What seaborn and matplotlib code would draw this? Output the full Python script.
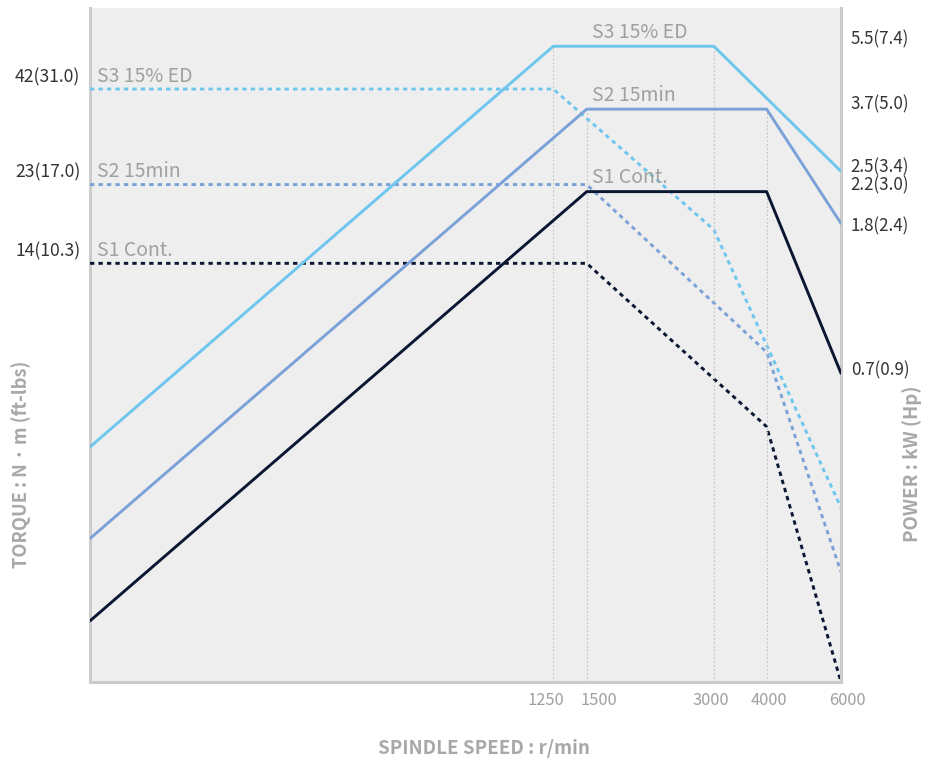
import matplotlib
matplotlib.use("Agg")
import matplotlib.pyplot as plt
import matplotlib.transforms as mtransforms
import seaborn as sns

# ---- data -------------------------------------------------------------
s1_speed = [100, 1500, 4000, 6000]
s1_power = [0.147, 2.2, 2.2, 0.7]
s1_torque = [14, 14, 5.0, 1.0]

s2_speed = [100, 1500, 4000, 6000]
s2_power = [0.247, 3.7, 3.7, 1.8]
s2_torque = [23, 23, 8.0, 2.0]

s3_speed = [100, 1250, 3000, 6000]
s3_power = [0.44, 5.5, 5.5, 2.5]
s3_torque = [42, 42, 17.3, 3.0]

series_names = ["S1 Cont.", "S2 15min", "S3 15% ED"]
series_colors = ["#0B1633", "#7BA2D8", "#6EC6EE"]

speed_ticks = [1250, 1500, 3000, 4000, 6000]
speed_labels = ["1250", "1500", "3000", "4000", "6000"]

torque_ticks = [42, 23, 14]
torque_labels = ["42(31.0)", "23(17.0)", "14(10.3)"]

power_ticks = [5.5, 3.7, 2.5, 2.2, 1.8, 0.7]
power_labels = ["5.5(7.4)", "3.7(5.0)", "2.5(3.4)", "2.2(3.0)", "1.8(2.4)", "0.7(0.9)"]

# vertical guides: (speed, power level they rise to)
guide_speed = [1250, 1500, 3000, 4000]
guide_power = [5.5, 3.7, 5.5, 3.7]

# ---- style ------------------------------------------------------------
sns.set_theme(style="white")
plt.rcParams["font.family"] = ["Noto Sans CJK JP", "DejaVu Sans"]

BG = "#EEEEEE"
SPINE = "#CCCCCC"
GREY_TXT = "#A0A0A0"
DARK_TXT = "#333333"

fig = plt.figure(figsize=(9.41, 7.6), dpi=100)
ax = fig.add_axes([90 / 941, 1 - 682 / 760, (841 - 90) / 941, (682 - 8) / 760])
ax.set_facecolor(BG)
ax2 = ax.twinx()

ax.set_xscale("log")
ax.set_yscale("log")
ax2.set_yscale("log")
ax.set_xlim(100, 6000)
ax.set_ylim(1, 70)
ax2.set_ylim(0.1, 7)

# guide lines
ax2.vlines(guide_speed, 0.1, guide_power, colors="#C2C2C2", lw=0.8,
           linestyles=(0, (1.5, 2)), zorder=1)

dot = (0, (1.5, 1.4))
speeds = [s1_speed, s2_speed, s3_speed]
powers = [s1_power, s2_power, s3_power]
torques = [s1_torque, s2_torque, s3_torque]
for sp, pw, tq, c in zip(speeds, powers, torques, series_colors):
    sns.lineplot(x=sp, y=tq, ax=ax, color=c, lw=2.1, linestyle=dot,
                 dash_capstyle="butt", zorder=3)
    sns.lineplot(x=sp, y=pw, ax=ax2, color=c, lw=2.1, zorder=3)

# ---- axes cosmetics ---------------------------------------------------
for a in (ax, ax2):
    for s in a.spines.values():
        s.set_visible(False)
ax.spines["left"].set_visible(True)
ax.spines["bottom"].set_visible(True)
ax2.spines["right"].set_visible(True)
for s in (ax.spines["left"], ax.spines["bottom"], ax2.spines["right"]):
    s.set_color(SPINE)
    s.set_linewidth(2.2)

ax.xaxis.set_minor_locator(matplotlib.ticker.NullLocator())
ax.yaxis.set_minor_locator(matplotlib.ticker.NullLocator())
ax2.yaxis.set_minor_locator(matplotlib.ticker.NullLocator())


def shift(label, dx, dy):
    label.set_transform(label.get_transform() +
                        mtransforms.ScaledTranslation(dx / 100, dy / 100, fig.dpi_scale_trans))


ax.set_xticks(speed_ticks)
ax.set_xticklabels(speed_labels)
ax.tick_params(axis="x", length=0, pad=7, labelsize=11.8, labelcolor=GREY_TXT)
for lab, dx in zip(ax.get_xticklabels(), [-7, 12, -3, 2, 6]):
    shift(lab, dx, 0)

ax.set_yticks(torque_ticks)
ax.set_yticklabels(torque_labels)
ax.tick_params(axis="y", length=0, pad=7, labelsize=12.6, labelcolor=DARK_TXT)
for lab in ax.get_yticklabels():
    shift(lab, 0, 14)

ax2.set_yticks(power_ticks)
ax2.set_yticklabels(power_labels)
ax2.tick_params(axis="y", length=0, pad=7, labelsize=12.2, labelcolor=DARK_TXT)
for lab, dy in zip(ax2.get_yticklabels(), [9, 7, 6, 8, -1, 5]):
    shift(lab, 0, dy)

ax.set_xlabel("")
ax.set_ylabel("")
ax2.set_ylabel("")

# ---- series labels ----------------------------------------------------
left_level = [14, 23, 42]
for name, tq in zip(series_names, left_level):
    ax.annotate(name, xy=(100, tq), xytext=(5, 1.5), textcoords="offset points",
                ha="left", va="bottom", fontsize=14, color=GREY_TXT)
top_level = [2.2, 3.7, 5.5]
for name, pw in zip(series_names, top_level):
    ax2.annotate(name, xy=(1500, pw), xytext=(4, 2.5), textcoords="offset points",
                 ha="left", va="bottom", fontsize=14, color=GREY_TXT)

# ---- axis titles ------------------------------------------------------
TITLE_GREY = "#A8A8A8"
fig.text(484 / 941, 1 - 748 / 760, "SPINDLE SPEED : r/min", ha="center", va="center",
         fontsize=13.5, fontweight="bold", color=TITLE_GREY)
fig.text(21 / 941, 1 - 464 / 760, "TORQUE : N · m (ft-lbs)", ha="center", va="center",
         rotation=90, fontsize=13.2, fontweight="bold", color=TITLE_GREY)
fig.text(912 / 941, 1 - 464 / 760, "POWER : kW (Hp)", ha="center", va="center",
         rotation=90, fontsize=13.5, fontweight="bold", color=TITLE_GREY)

fig.savefig("out.png", dpi=100, facecolor="white")
